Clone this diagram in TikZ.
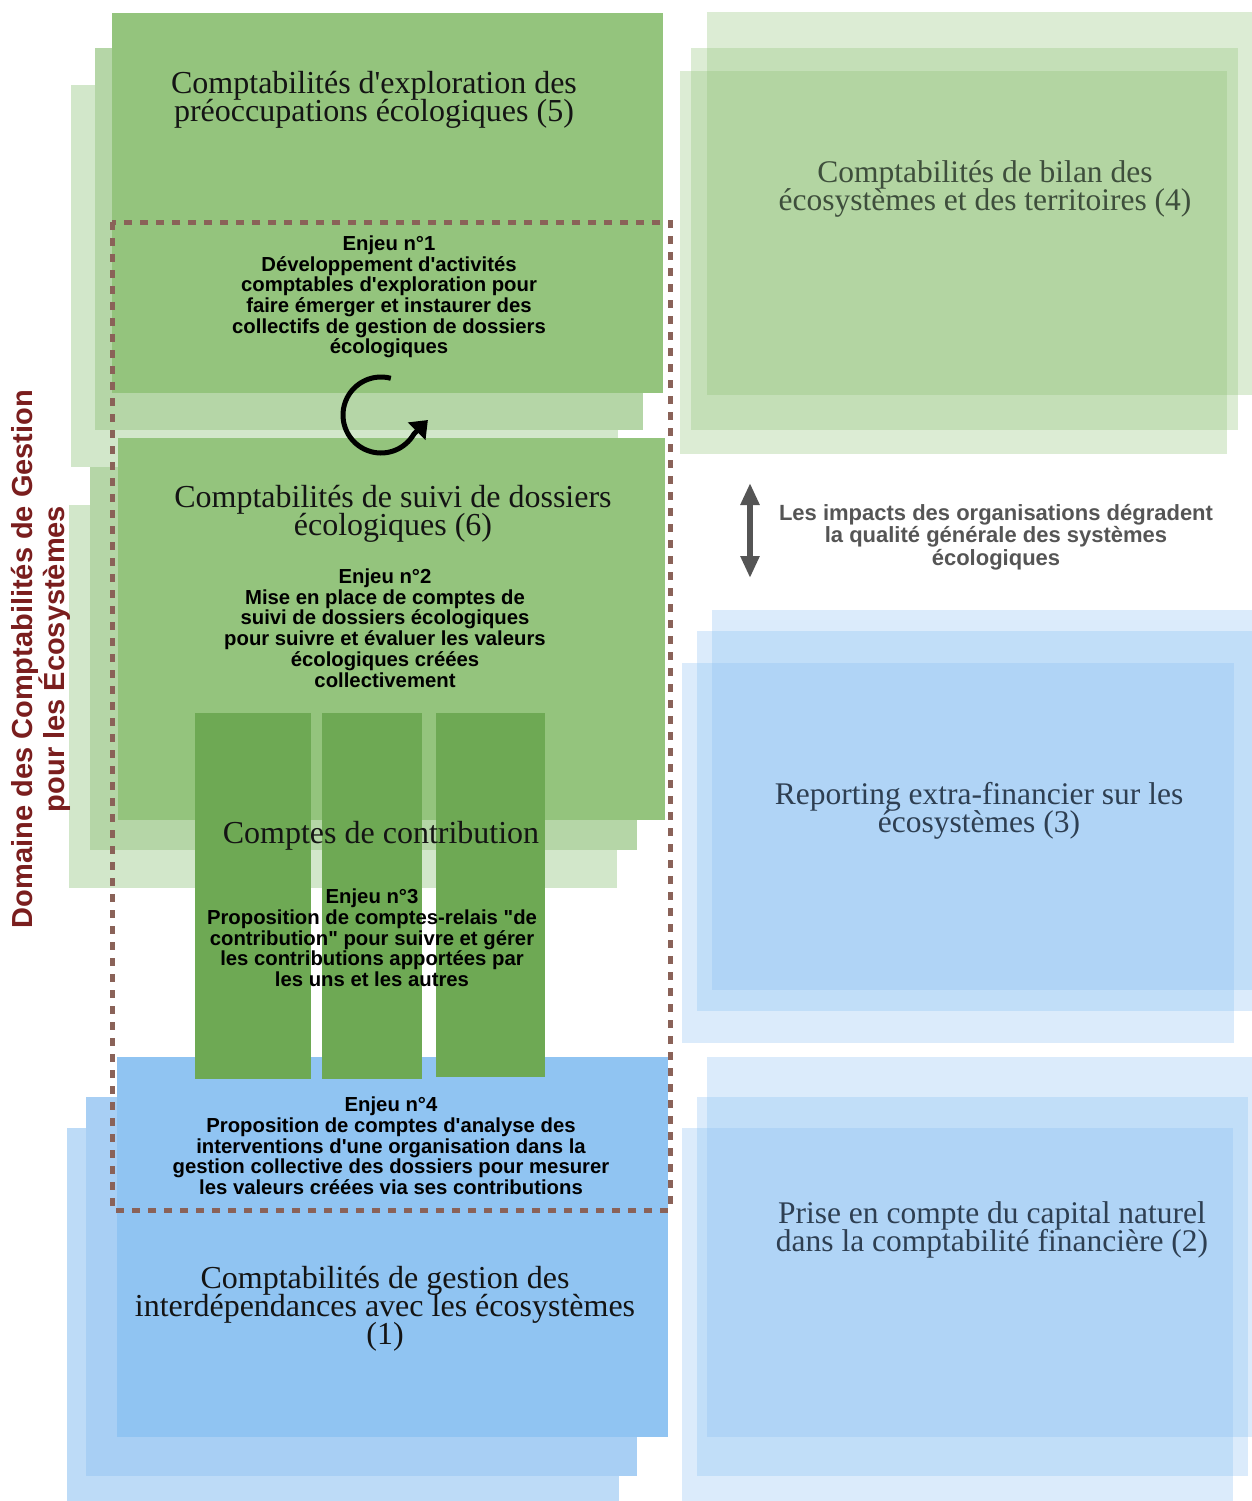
\documentclass[tikz,border=0pt]{standalone}
\usepackage{fontspec}
\setmainfont{Liberation Serif}[Ligatures=TeXOff]
\newfontfamily\arialfont{Liberation Sans}[Ligatures=TeXOff]
\usetikzlibrary{arrows.meta}

\definecolor{vertA}{HTML}{94C47D}
\definecolor{vertB}{HTML}{B5D6A7}
\definecolor{vertC}{HTML}{D2E7CA}
\definecolor{vertD}{RGB}{140,192,114}
\definecolor{vertContrib}{HTML}{6EA954}
\definecolor{bleuA}{HTML}{90C4F2}
\definecolor{bleuB}{HTML}{A8CFF4}
\definecolor{bleuC}{HTML}{BDDBF7}
\definecolor{bleuD}{RGB}{135,190,242}
\definecolor{pointille}{HTML}{8A6258}
\definecolor{bordeaux}{HTML}{7A1E1E}
\definecolor{texteV}{HTML}{3E4E3C}
\definecolor{texteB}{HTML}{2E3F52}
\definecolor{gris}{HTML}{555555}

\begin{document}
\begin{tikzpicture}[x=1pt,y=-1pt,
  titre/.style={align=center,inner sep=0pt,text=black!92,font={\fontsize{32}{28}\selectfont\lineskiplimit=-50pt}},
  enjeu/.style={align=center,inner sep=0pt,text=black,font={\arialfont\bfseries\fontsize{20.3}{20.7}\selectfont\lineskiplimit=-50pt}},
  voile/.style={fill=#1,fill opacity=0.3}
]
\useasboundingbox (0,0) rectangle (1252,1501);
\clip (0,0) rectangle (1252,1501);

%%%%%%%%%%%%%%%%%%%%%%%%%%%%%%%%%%%%%% colonne de gauche
\fill[vertC] (71,85) rectangle (618,467);
\fill[vertB] (95,48) rectangle (643,430);
\fill[vertA] (112,13) rectangle (663,393);

\fill[vertC] (69,505) rectangle (617,888);
\fill[vertB] (90,467) rectangle (637,850);
\fill[vertA] (118,438) rectangle (665,820);

\fill[bleuC] (67,1128) rectangle (619,1510);
\fill[bleuB] (86,1097) rectangle (637,1476);
\fill[bleuA] (117,1057) rectangle (668,1437);

% comptes de contribution
\fill[vertContrib] (195,713) rectangle (311,1079);
\fill[vertContrib] (322,713) rectangle (422,1079);
\fill[vertContrib] (436,713) rectangle (545,1077);

%%%%%%%%%%%%%%%%%%%%%%%%%%%%%%%%%%%%%% colonne de droite
\fill[voile=vertD] (707,12) rectangle (1260,395);
\fill[voile=vertD] (691,48) rectangle (1238,430);
\fill[voile=vertD] (680,71) rectangle (1227,454);

\fill[voile=bleuD] (712,610) rectangle (1260,990);
\fill[voile=bleuD] (697,631) rectangle (1252,1011);
\fill[voile=bleuD] (682,663) rectangle (1234,1043);

\fill[voile=bleuD] (707,1057) rectangle (1260,1437);
\fill[voile=bleuD] (697,1097) rectangle (1248,1476);
\fill[voile=bleuD] (682,1128) rectangle (1233,1510);

%%%%%%%%%%%%%%%%%%%%%%%%%%%%%%%%%%%%%% textes
\node[titre] at (374,100) (titre_5) {Comptabilités d'exploration des\\préoccupations écologiques (5)};
\node[enjeu] at (389,297) (enjeu_1) {Enjeu n°1\\Développement d'activités\\comptables d'exploration pour\\faire émerger et instaurer des\\collectifs de gestion de dossiers\\écologiques};

\node[titre] at (393,514) (titre_6) {Comptabilités de suivi de dossiers\\écologiques (6)};
\node[enjeu] at (385,628) (enjeu_2) {Enjeu n°2\\Mise en place de comptes de\\suivi de dossiers écologiques\\pour suivre et évaluer les valeurs\\écologiques créées\\collectivement};

\node[titre] at (381,836) (contrib) {Comptes de contribution};
\node[enjeu] at (372,938) (enjeu_3) {Enjeu n°3\\Proposition de comptes-relais "de\\contribution" pour suivre et gérer\\les contributions apportées par\\les uns et les autres};

\node[enjeu] at (391,1146) (enjeu_4) {Enjeu n°4\\Proposition de comptes d'analyse des\\interventions d'une organisation dans la\\gestion collective des dossiers pour mesurer\\les valeurs créées via ses contributions};
\node[titre] at (385,1309) (titre_1) {Comptabilités de gestion des\\interdépendances avec les écosystèmes\\(1)};

\node[titre,text=texteV,font={\fontsize{31.5}{28}\selectfont\lineskiplimit=-50pt}] at (985,189) (titre_4) {Comptabilités de bilan des\\écosystèmes et des territoires (4)};
\node[enjeu,text=gris,font={\arialfont\bfseries\fontsize{22}{22.5}\selectfont\lineskiplimit=-50pt}] at (996,537) (impacts) {Les impacts des organisations dégradent\\la qualité générale des systèmes\\écologiques};
\node[titre,text=texteB,font={\fontsize{31.5}{28}\selectfont\lineskiplimit=-50pt}] at (979,811) (titre_3) {Reporting extra-financier sur les\\écosystèmes (3)};
\node[titre,text=texteB,font={\fontsize{31.5}{28}\selectfont\lineskiplimit=-50pt}] at (992,1230) (titre_2) {Prise en compte du capital naturel\\dans la comptabilité financière (2)};

\node[enjeu,rotate=90,text=bordeaux,font={\arialfont\bfseries\fontsize{29}{30}\selectfont}] at (41,659) (domaine) {Domaine des Comptabilités de Gestion\\pour les Écosystèmes};

%%%%%%%%%%%%%%%%%%%%%%%%%%%%%%%%%%%%%% perimetre et fleches
\draw[pointille,line width=5pt,dash pattern=on 8pt off 8pt] (112,222) rectangle (670,1210);

\coordinate (cycle) at (381,415);
\draw[line width=5pt,-{Triangle[length=16pt,width=24pt]}] ([shift={(-75:38)}]cycle) arc[start angle=-75,end angle=-330,radius=38] -- ++(14,-14);

\coordinate (impact_haut) at (750,483);
\coordinate (impact_bas) at (750,578);
\draw[gris,line width=6pt,{Triangle[length=22pt,width=18pt]}-{Triangle[length=22pt,width=18pt]}] (impact_haut) -- (impact_bas);

\end{tikzpicture}
\end{document}
